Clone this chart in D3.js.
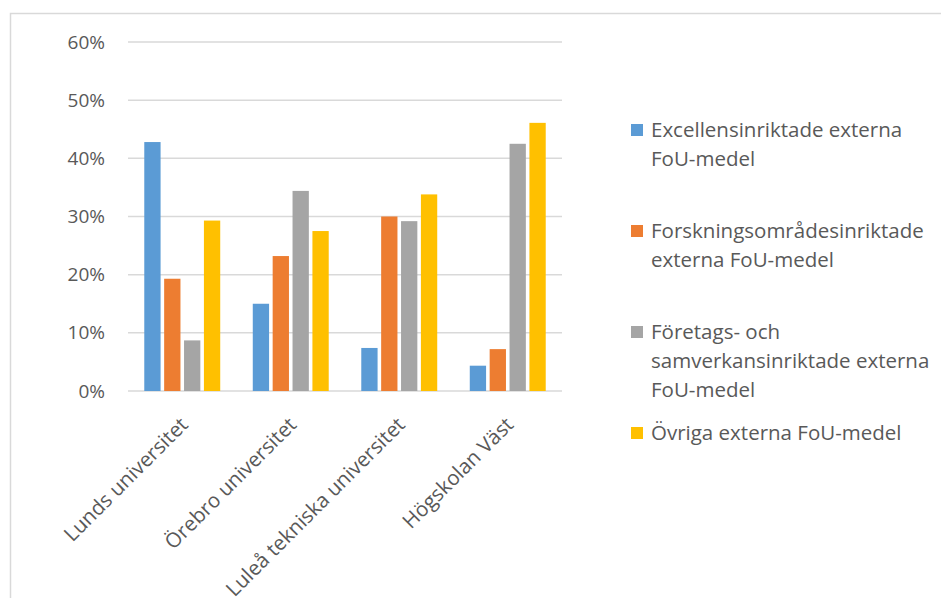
<!DOCTYPE html>
<html><head><meta charset="utf-8">
<script src="https://cdn.jsdelivr.net/npm/d3@7"></script>
<style>html,body{margin:0;padding:0;background:#fff;}svg{display:block;font-family:"Open Sans",sans-serif;}</style>
</head><body>
<script>
const categories = ["Lunds universitet","Örebro universitet","Luleå tekniska universitet","Högskolan Väst"];
const seriesNames = ["Excellensinriktade externa FoU-medel","Forskningsområdesinriktade externa FoU-medel","Företags- och samverkansinriktade externa FoU-medel","Övriga externa FoU-medel"];
const legendLines = [["Excellensinriktade externa","FoU-medel"],["Forskningsområdesinriktade","externa FoU-medel"],["Företags- och","samverkansinriktade externa","FoU-medel"],["Övriga externa FoU-medel"]];
const excellens = [0.428, 0.150, 0.074, 0.0435];
const forskning = [0.193, 0.232, 0.300, 0.072];
const foretag = [0.087, 0.344, 0.292, 0.425];
const ovriga = [0.293, 0.275, 0.338, 0.461];
const yTicks = [0, 0.1, 0.2, 0.3, 0.4, 0.5, 0.6];
const colors = ["#5b9bd5","#ed7d31","#a5a5a5","#ffc000"];
const seriesValues = [excellens, forskning, foretag, ovriga];

const W = 941, H = 598;
const svg = d3.select("body").append("svg").attr("width", W).attr("height", H);
svg.append("rect").attr("width", W).attr("height", H).attr("fill", "#fff");
svg.append("rect").attr("x", 10.5).attr("y", 13.5).attr("width", 960).attr("height", 620)
  .attr("fill", "none").attr("stroke", "#d9d9d9").attr("stroke-width", 1.5);

const y = d3.scaleLinear().domain([0, 0.6]).range([391, 42]);
const x0 = d3.scaleBand().domain(categories).range([128, 562]).padding(0);
const x1 = d3.scaleBand().domain(d3.range(seriesNames.length))
  .range([x0.bandwidth()*0.15, x0.bandwidth()*0.85]).paddingInner(0.18);

// gridlines
svg.append("g").selectAll("line").data(yTicks).join("line")
  .attr("x1", 128).attr("x2", 562)
  .attr("y1", d => y(d)).attr("y2", d => y(d))
  .attr("stroke", "#d9d9d9").attr("stroke-width", 1.5);

// y axis labels
const yAxis = d3.axisLeft(y).tickValues(yTicks).tickFormat(d3.format(".0%")).tickSize(0).tickPadding(0);
const ya = svg.append("g").attr("transform", "translate(105,0)").call(yAxis);
ya.select(".domain").remove();
ya.selectAll("text").attr("fill", "#595959").attr("font-size", 19).attr("font-family", "'Open Sans',sans-serif");

// bars
const groups = svg.append("g").selectAll("g").data(categories).join("g")
  .attr("transform", d => `translate(${x0(d)},0)`);
groups.selectAll("rect").data((c, ci) => seriesValues.map((s, si) => ({si, v: s[ci]}))).join("rect")
  .attr("x", d => x1(d.si)).attr("width", x1.bandwidth())
  .attr("y", d => y(d.v)).attr("height", d => y(0) - y(d.v))
  .attr("fill", d => colors[d.si]);

// x labels
svg.append("g").selectAll("text").data(categories).join("text")
  .attr("transform", d => `translate(${x0(d) + x0.bandwidth()/2 + 7},426) rotate(-45)`)
  .attr("text-anchor", "end").attr("fill", "#595959").attr("font-size", 20.5)
  .text(d => d);

// legend
const lg = svg.append("g").selectAll("g").data(legendLines).join("g")
  .attr("transform", (d, i) => `translate(631,${130 + i*101})`);
lg.append("rect").attr("x", 0).attr("y", -6).attr("width", 12).attr("height", 12).attr("fill", (d, i) => colors[i]);
lg.append("text").attr("fill", "#595959").attr("font-size", 20.5)
  .selectAll("tspan").data(d => d).join("tspan")
  .attr("x", 20).attr("y", (d, i) => i*29).attr("dy", "0.35em").text(d => d);
</script>
</body></html>
